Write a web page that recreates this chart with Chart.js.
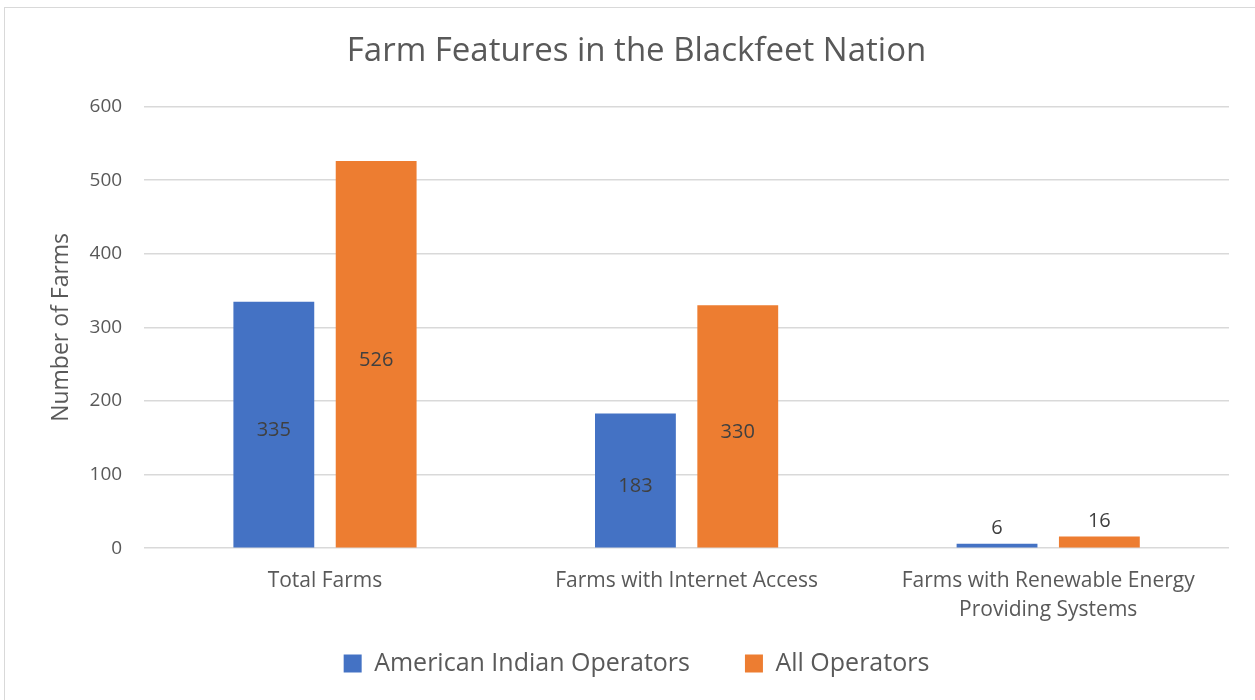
<!DOCTYPE html>
<html>
<head>
<meta charset="utf-8">
<script src="https://cdn.jsdelivr.net/npm/chart.js@4"></script>
<style>
  body { margin: 0; background: #fff; }
  #wrap { width: 1255px; height: 700px; position: relative; }
</style>
</head>
<body>
<div id="wrap"><canvas id="farm-chart" width="1255" height="700"></canvas></div>
<script>
// Chart data
const categories = [
    'Total Farms',
    'Farms with Internet Access',
    ['Farms with Renewable Energy', 'Providing Systems']
];
const americanIndian = [335, 183, 6];
const allOperators = [526, 330, 16];
const yTicks = [0, 100, 200, 300, 400, 500, 600];

const textColor = '#595959';
const fontName = '"Open Sans", Lato, sans-serif';

// Draw value labels: centred inside tall bars, above short ones
const barLabels = {
    id: 'barLabels',
    afterDatasetsDraw(chart) {
        const ctx = chart.ctx;
        ctx.save();
        ctx.font = '20px ' + fontName;
        ctx.fillStyle = '#404040';
        ctx.textAlign = 'center';
        ctx.textBaseline = 'middle';
        chart.data.datasets.forEach(function(ds, i) {
            chart.getDatasetMeta(i).data.forEach(function(bar, j) {
                const h = bar.base - bar.y;
                const y = h > 40 ? bar.y + h / 2 + 6 : bar.y - 15;
                ctx.fillText(ds.data[j], bar.x, y);
            });
        });
        ctx.restore();
    }
};

// Light frame around the chart like the original
const frame = {
    id: 'frame',
    beforeDraw(chart) {
        const ctx = chart.ctx;
        ctx.save();
        ctx.fillStyle = '#fff';
        ctx.fillRect(0, 0, chart.width, chart.height);
        ctx.strokeStyle = '#d9d9d9';
        ctx.lineWidth = 1;
        ctx.strokeRect(4.5, 7.5, chart.width, chart.height);
        ctx.restore();
    }
};

const ctx = document.getElementById('farm-chart').getContext('2d');
const farmChart = new Chart(ctx, {
    type: 'bar',
    data: {
        labels: categories,
        datasets: [{
            label: 'American Indian Operators',
            data: americanIndian,
            backgroundColor: '#4472c4'
        }, {
            label: 'All Operators',
            data: allOperators,
            backgroundColor: '#ed7d31'
        }]
    },
    options: {
        responsive: false,
        animation: false,
        categoryPercentage: 0.566,
        barPercentage: 0.79,
        layout: { padding: { left: 44, right: 26, top: 20, bottom: 14 } },
        plugins: {
            title: {
                display: true,
                text: 'Farm Features in the Blackfeet Nation',
                color: textColor,
                font: { family: fontName, size: 33, weight: 'normal' },
                padding: { top: 12, bottom: 35 }
            },
            legend: {
                position: 'bottom',
                labels: {
                    color: textColor,
                    font: { family: fontName, size: 25 },
                    usePointStyle: true,
                    pointStyle: 'rect',
                    boxWidth: 18,
                    boxHeight: 18,
                    padding: 16,
                    // wider gap between the two entries without extra height
                    generateLabels(chart) {
                        const items = Chart.defaults.plugins.legend.labels.generateLabels(chart);
                        items[0].text += '      ';
                        return items;
                    }
                }
            },
            tooltip: { enabled: false }
        },
        scales: {
            x: {
                grid: { display: false },
                border: { display: false },
                ticks: {
                    color: textColor,
                    font: { family: fontName, size: 21, lineHeight: 1.4 },
                    maxRotation: 0,
                    padding: 10
                }
            },
            y: {
                min: 0,
                max: 600,
                afterBuildTicks(axis) {
                    axis.ticks = yTicks.map(function(v) { return { value: v }; });
                },
                grid: { color: '#d9d9d9', lineWidth: 1.5, drawTicks: false },
                border: { display: false },
                ticks: {
                    color: textColor,
                    font: { family: fontName, size: 19 },
                    padding: 22
                },
                title: {
                    display: true,
                    text: 'Number of Farms',
                    color: textColor,
                    font: { family: fontName, size: 23 },
                    padding: { top: 4, bottom: -8 }
                }
            }
        }
    },
    plugins: [frame, barLabels]
});
</script>
</body>
</html>
